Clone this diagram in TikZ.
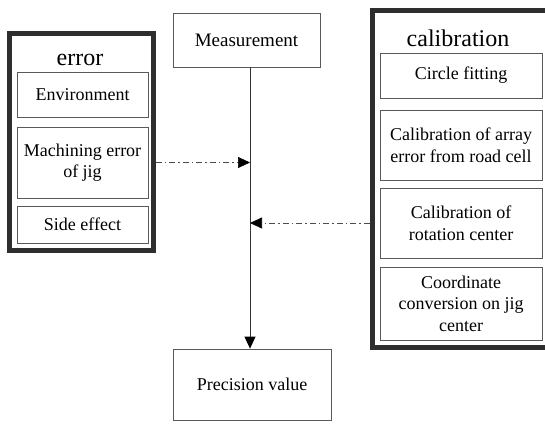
\documentclass[tikz,border=0pt]{standalone}
\usepackage{fontspec}
\setmainfont{Liberation Serif}
\usetikzlibrary{arrows.meta}
\begin{document}
\begin{tikzpicture}[x=1pt,y=-1pt,
  thickframe/.style={draw=black!82,line width=5pt,minimum width=#1,inner sep=0pt},
  innerbox/.style={draw=black!65,line width=0.8pt,align=center,inner sep=0pt,font=\rmfamily\fontsize{18}{21.6}\selectfont},
  titletext/.style={font=\rmfamily\fontsize{24}{28}\selectfont,inner sep=0pt},
  dashdotline/.style={draw=black!70,line width=0.7pt,dash pattern=on 6pt off 3pt on 1.5pt off 3pt},
  tip/.style={-{Triangle[length=12pt,width=11pt,color=black]}}]
\useasboundingbox (0,0) rectangle (545,423);
\clip (0,0) rectangle (545,423);
% error group
\node[thickframe=144pt,minimum height=217pt] (errbox) at (81,141.5) {};
\node[titletext] (errtitle) at (80,60) {error};
\node[innerbox,minimum width=131pt,minimum height=45pt] (env) at (82.5,94.5) {Environment};
\node[innerbox,minimum width=131pt,minimum height=71pt] (mach) at (82.5,162.5) {Machining error\\of jig};
\node[innerbox,minimum width=131pt,minimum height=37pt] (side) at (82.5,224.5) {Side effect};
% calibration group
\node[thickframe=190pt,minimum height=337pt] (calbox) at (467,178.5) {};
\node[titletext] (caltitle) at (458,38) {calibration};
\node[innerbox,minimum width=162pt,minimum height=45pt] (circ) at (461,75.5) {Circle fitting};
\node[innerbox,minimum width=162pt,minimum height=70pt] (arr) at (461,145) {Calibration of array\\error from road cell};
\node[innerbox,minimum width=162pt,minimum height=70pt] (rot) at (461,223) {Calibration of\\rotation center};
\node[innerbox,minimum width=162pt,minimum height=73pt] (coord) at (461,303.5) {Coordinate\\conversion on jig\\center};
% main flow
\node[innerbox,minimum width=147pt,minimum height=54pt,font=\rmfamily\fontsize{19}{22}\selectfont] (meas) at (246.5,40) {Measurement};
\node[innerbox,minimum width=158pt,minimum height=71pt] (prec) at (252,384.5) {Precision value};
\draw[black!80,line width=0.8pt,tip] (meas.south -| prec.north) ++(-2,0) coordinate (vtop) -- (vtop |- prec.north);
\draw[dashdotline,tip] (mach.east -| errbox.east) -- (mach.east -| vtop);
\draw[dashdotline,tip] (rot.west -| calbox.west) -- (rot.west -| vtop);
\end{tikzpicture}
\end{document}
